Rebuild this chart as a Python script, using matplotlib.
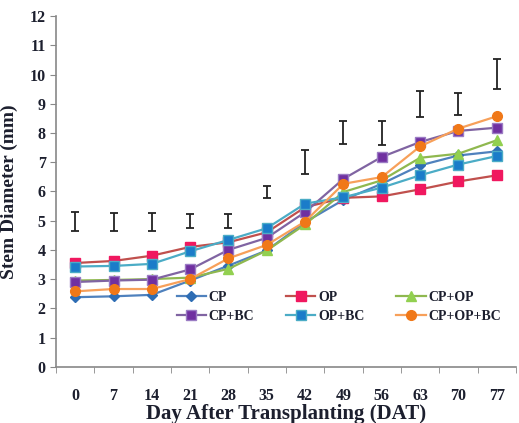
import numpy as np
from matplotlib import pyplot as plt

days = ['0', '7', '14', '21', '28', '35', '42', '49', '56', '63', '70', '77']

cp = [2.38, 2.41, 2.46, 2.95, 3.46, 3.98, 4.95, 5.71, 6.26, 6.89, 7.23, 7.37]
op = [3.55, 3.62, 3.80, 4.10, 4.26, 4.60, 5.46, 5.78, 5.83, 6.07, 6.34, 6.55]
cp_op = [2.95, 2.97, 3.00, 3.05, 3.35, 3.98, 4.87, 5.98, 6.38, 7.15, 7.29, 7.75]
cp_bc = [2.90, 2.95, 2.98, 3.33, 4.00, 4.41, 5.29, 6.43, 7.18, 7.69, 8.07, 8.18]
op_bc = [3.43, 3.45, 3.52, 3.95, 4.34, 4.74, 5.58, 5.80, 6.13, 6.55, 6.92, 7.21]
cp_op_bc = [2.58, 2.66, 2.66, 3.00, 3.71, 4.17, 4.97, 6.26, 6.49, 7.54, 8.15, 8.57]

# LSD bars: bottom and top of each bar
bar_lo = [4.66, 4.66, 4.66, 4.74, 4.74, 5.78, 6.58, 7.63, 7.60, 8.53, 8.60, 9.49]
bar_hi = [5.29, 5.26, 5.26, 5.23, 5.23, 6.20, 7.40, 8.41, 8.41, 9.43, 9.38, 10.52]

plt.rcParams['font.family'] = 'Liberation Serif'
plt.rcParams['font.weight'] = 'bold'
txt = '#1c1f2e'

fig = plt.figure(figsize=(5.19, 4.23), dpi=100)
ax = fig.add_axes([0.108, 0.133, 0.886, 0.829])
x = np.arange(len(days))

l1, = ax.plot(x, cp, color='#4f81bd', marker='D', mfc='#2e6db4', mec='#2e6db4', ms=5, lw=1.6, label='CP')
l2, = ax.plot(x, op, color='#c0504d', marker='s', mfc='#f0185f', mec='#f0185f', ms=7, lw=1.6, label='OP')
l3, = ax.plot(x, cp_op, color='#8fb84f', marker='^', mfc='#92d050', mec='#92d050', ms=7, lw=1.6, label='CP+OP')
l4, = ax.plot(x, cp_bc, color='#8064a2', marker='s', mfc='#7030a0', mec='#9b7cc4', ms=7, lw=1.6, label='CP+BC')
l5, = ax.plot(x, op_bc, color='#4bacc6', marker='s', mfc='#1b7cc9', mec='#4bacc6', ms=7, lw=1.6, label='OP+BC')
l6, = ax.plot(x, cp_op_bc, color='#f7a05a', marker='o', mfc='#f07818', mec='#f07818', ms=7, lw=1.6, label='CP+OP+BC')

mid = (np.array(bar_lo) + np.array(bar_hi)) / 2
err = (np.array(bar_hi) - np.array(bar_lo)) / 2
ax.errorbar(x, mid, yerr=err, fmt='none', ecolor='#222222', elinewidth=1.3, capsize=3, capthick=1.3)

ax.set_xlim(-0.5, 11.5)
ax.set_ylim(0, 12)
ax.set_yticks(range(0, 13))
ax.set_xticks(x)
ax.set_xticklabels(days)
ax.set_xticks(np.arange(-0.5, 12, 1), minor=True)
ax.tick_params(axis='x', which='major', length=0, pad=15, labelsize=11.5, labelcolor=txt)
ax.tick_params(axis='x', which='minor', length=4, color='#888888')
ax.tick_params(axis='y', length=4, color='#888888', labelsize=11.5, labelcolor=txt)
for s in ['top', 'right']:
    ax.spines[s].set_visible(False)
for s in ['left', 'bottom']:
    ax.spines[s].set_color('#888888')
    ax.spines[s].set_linewidth(1.2)

ax.set_xlabel('Day After Transplanting (DAT)', fontsize=15, fontweight='bold', color=txt, labelpad=0)
ax.set_ylabel('Stem Diameter (mm)', fontsize=14, fontweight='bold', color=txt, labelpad=8)

# legend order so rows read CP, OP, CP+OP / CP+BC, OP+BC, CP+OP+BC
ax.legend(handles=[l1, l4, l2, l5, l3, l6], ncol=3, loc='center', bbox_to_anchor=(0.615, 0.17),
          frameon=False, fontsize=10, handlelength=2.1, handletextpad=0.2,
          columnspacing=2.3, labelspacing=0.45, labelcolor=txt)

plt.savefig('out.png', dpi=100)
